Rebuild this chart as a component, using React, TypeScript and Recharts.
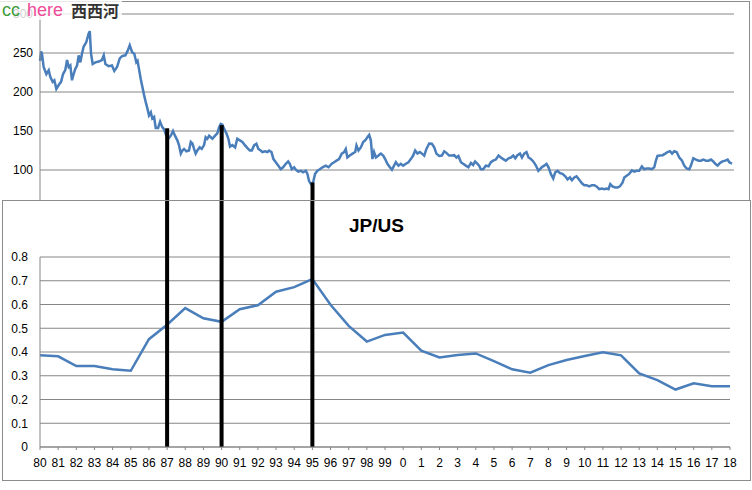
import { LineChart, Line, XAxis, YAxis, CartesianGrid, ReferenceLine } from "recharts"

// USD/JPY rate, top chart (x = years since Jan 1980)
const fxYears = [
  0.0, 0.06, 0.11, 0.2, 0.35, 0.48, 0.57, 0.7, 0.79, 0.9,
  1.03, 1.16, 1.27, 1.39, 1.49, 1.58, 1.67, 1.76, 1.85, 1.95,
  2.04, 2.13, 2.22, 2.31, 2.4, 2.55, 2.68, 2.74, 2.81, 2.9,
  3.05, 3.23, 3.41, 3.51, 3.6, 3.78, 3.96, 4.09, 4.24, 4.39,
  4.52, 4.7, 4.83, 4.94, 5.07, 5.19, 5.3, 5.37, 5.55, 5.73,
  5.82, 5.91, 6.0, 6.1, 6.18, 6.28, 6.37, 6.5, 6.61, 6.73,
  6.83, 6.95, 7.06, 7.2, 7.32, 7.43, 7.56, 7.65, 7.75, 7.84,
  7.93, 8.06, 8.2, 8.3, 8.39, 8.48, 8.57, 8.66, 8.79, 8.9,
  9.03, 9.12, 9.21, 9.31, 9.4, 9.49, 9.64, 9.76, 9.86, 9.95,
  10.04, 10.13, 10.26, 10.37, 10.46, 10.59, 10.74, 10.86, 11.0, 11.14,
  11.29, 11.42, 11.55, 11.66, 11.78, 11.91, 12.02, 12.15, 12.24, 12.39,
  12.52, 12.61, 12.74, 12.85, 12.98, 13.12, 13.25, 13.38, 13.53, 13.66,
  13.75, 13.86, 13.99, 14.08, 14.22, 14.36, 14.48, 14.63, 14.72, 14.81,
  14.91, 15.03, 15.14, 15.27, 15.4, 15.55, 15.73, 15.88, 16.06, 16.19,
  16.32, 16.46, 16.61, 16.74, 16.83, 16.92, 17.05, 17.2, 17.35, 17.42,
  17.53, 17.66, 17.79, 17.9, 18.02, 18.12, 18.21, 18.3, 18.39, 18.49,
  18.63, 18.76, 18.89, 19.0, 19.12, 19.26, 19.37, 19.49, 19.59, 19.73,
  19.86, 19.99, 20.14, 20.28, 20.41, 20.54, 20.65, 20.78, 20.91, 21.02,
  21.15, 21.27, 21.42, 21.57, 21.7, 21.82, 21.97, 22.12, 22.25, 22.37,
  22.52, 22.67, 22.8, 22.92, 23.03, 23.17, 23.29, 23.44, 23.58, 23.72,
  23.84, 23.95, 24.08, 24.17, 24.27, 24.39, 24.54, 24.69, 24.82, 24.94,
  25.09, 25.24, 25.37, 25.5, 25.64, 25.79, 25.92, 26.05, 26.16, 26.28,
  26.42, 26.53, 26.65, 26.78, 26.89, 27.02, 27.15, 27.29, 27.43, 27.62,
  27.75, 27.88, 27.99, 28.12, 28.25, 28.36, 28.49, 28.62, 28.76, 28.91,
  29.04, 29.17, 29.28, 29.41, 29.53, 29.68, 29.83, 29.96, 30.08, 30.23,
  30.38, 30.51, 30.63, 30.78, 30.93, 31.06, 31.18, 31.29, 31.39, 31.51,
  31.66, 31.79, 31.92, 32.07, 32.16, 32.29, 32.43, 32.58, 32.71, 32.84,
  32.98, 33.13, 33.26, 33.39, 33.54, 33.68, 33.81, 33.9, 33.99, 34.12,
  34.27, 34.42, 34.54, 34.68, 34.79, 34.91, 35.04, 35.19, 35.34, 35.46,
  35.59, 35.74, 35.83, 35.96, 36.11, 36.25, 36.38, 36.51, 36.66, 36.8,
  36.93, 37.06, 37.17, 37.3, 37.43, 37.57, 37.72, 37.85, 37.94, 38.09,
]

const fxRates = [
  240, 252, 249, 232, 223, 228, 219, 213, 215, 204,
  209, 213, 223, 228, 241, 232, 234, 215, 223, 230,
  234, 247, 238, 249, 258, 264, 275, 278, 249, 236,
  238, 239, 241, 247, 236, 233, 234, 227, 232, 243,
  246, 247, 253, 260, 251, 249, 238, 240, 216, 196,
  187, 179, 170, 174, 166, 168, 154, 154, 162, 155,
  152, 144, 140, 144, 150, 144, 138, 132, 121, 125,
  127, 124, 125, 136, 134, 127, 121, 125, 129, 127,
  132, 142, 140, 144, 142, 140, 144, 147, 155, 159,
  158, 153, 147, 140, 130, 132, 129, 140, 138, 136,
  131.5, 128, 125, 125, 131.5, 133.6, 127, 125, 123, 124,
  123, 125, 123, 114, 110, 105.6, 101, 103.5, 108, 111,
  108, 101, 103.5, 100.4, 98, 99, 97, 99, 95, 86,
  82, 84, 95, 99, 101, 103.5, 105.6, 103.5, 108, 110,
  112, 114, 121, 123, 127, 116, 118.5, 121, 123, 131.5,
  125, 129, 136, 138, 142, 145, 138, 114, 123, 116,
  118.5, 121, 118.5, 114, 108, 103.5, 100.4, 105.6, 110, 105.6,
  108, 105.6, 108, 110, 114, 118.5, 125, 121, 123, 121,
  118.5, 127, 134, 133.6, 129, 121, 118, 118.5, 124, 122,
  118.5, 118.5, 119, 116, 118, 110, 108, 105.6, 103.5, 109,
  106.5, 111, 108, 105.6, 101, 101, 105.6, 104.7, 110, 112,
  113.4, 118.5, 116, 114, 112, 115, 116, 118.5, 115, 119,
  121, 116, 121, 123, 116, 114, 111, 106, 99, 103.5,
  105.6, 108, 103.5, 95, 89, 97, 99, 96, 95, 92,
  88, 90.5, 87, 90.5, 92, 87.5, 83, 80.6, 80.6, 79,
  80.6, 80.6, 79, 75.4, 76.3, 75.4, 76.3, 75.4, 82, 79,
  77.6, 77.6, 79, 84, 90.5, 92.7, 95, 99.5, 98, 99,
  99, 104.7, 101, 102, 102, 101, 103.5, 112, 118, 118.5,
  119, 121, 123, 124, 121, 124, 123, 116, 112, 105.6,
  102, 101, 105.6, 115, 113.4, 112, 112, 113.4, 112, 112,
  113.4, 111, 108, 105.6, 109, 111, 112, 113.4, 110, 108,
]

const fxTicks = [0, 50, 100, 150, 200, 250, 300]

// JP/US ratio, bottom chart
const years = [
  "80", "81", "82", "83", "84", "85", "86", "87", "88", "89",
  "90", "91", "92", "93", "94", "95", "96", "97", "98", "99",
  "0", "1", "2", "3", "4", "5", "6", "7", "8", "9",
  "10", "11", "12", "13", "14", "15", "16", "17", "18",
]

const jpUs = [
  0.386, 0.382, 0.341, 0.341, 0.327, 0.321, 0.454, 0.515, 0.585, 0.542,
  0.527, 0.58, 0.597, 0.654, 0.673, 0.707, 0.599, 0.51, 0.444, 0.472,
  0.482, 0.406, 0.377, 0.387, 0.394, 0.362, 0.327, 0.313, 0.345, 0.366,
  0.383, 0.399, 0.386, 0.31, 0.282, 0.242, 0.268, 0.256, 0.256,
]

const ratioTicks = [0, 0.1, 0.2, 0.3, 0.4, 0.5, 0.6, 0.7, 0.8]

// turning points marked with black bars
const markerYears = ["87", "90", "95"]
const markerFxYears = [7, 10, 15]
const markerFxTop = [153.5, 157.5, 84]

const fxData = fxYears.map((t, i) => ({ t, rate: fxRates[i] }))
const ratioData = years.map((year, i) => ({ year, ratio: jpUs[i] }))

const BLUE = "#4a7ebb"
const GRID = "#868686"
const FONT = "'Liberation Sans', Arial, sans-serif"

export default function App() {
  return (
    <div
      style={{
        position: "absolute",
        left: 0,
        top: 0,
        width: 752,
        height: 490,
        background: "#fff",
        overflow: "hidden",
        fontFamily: FONT,
      }}
    >
      {/* top chart frame */}
      <div
        style={{
          position: "absolute",
          left: -1,
          top: 1,
          width: 750,
          height: 260,
          borderTop: "1px solid #8c8c8c",
          borderRight: "1px solid #8c8c8c",
        }}
      />
      <div style={{ position: "absolute", left: 0, top: 0 }}>
        <LineChart width={752} height={260} data={fxData} margin={{ top: 14, right: 18, bottom: 12, left: 0 }}>
          <CartesianGrid vertical={false} stroke={GRID} />
          <XAxis dataKey="t" type="number" domain={[0, 38.2]} hide />
          <YAxis
            width={40}
            domain={[0, 300]}
            ticks={fxTicks}
            axisLine={{ stroke: GRID }}
            tickLine={false}
            tickSize={0}
            tickMargin={7}
            tick={{ fontSize: 12, fill: "#000", fontFamily: FONT }}
          />
          <Line
            type="linear"
            dataKey="rate"
            stroke={BLUE}
            strokeWidth={2.5}
            dot={false}
            isAnimationActive={false}
          />
          {markerFxYears.map((t, i) => (
            <ReferenceLine
              key={t}
              segment={[
                { x: t, y: markerFxTop[i] },
                { x: t, y: 0 },
              ]}
              stroke="#000"
              strokeWidth={4}
            />
          ))}
        </LineChart>
      </div>

      {/* watermark */}
      <div
        style={{
          position: "absolute",
          left: 0,
          top: 0,
          width: 122,
          height: 20,
          background: "rgba(255,255,255,0.8)",
          whiteSpace: "nowrap",
        }}
      >
        <span style={{ position: "absolute", left: 2, top: 0, fontSize: 18, lineHeight: "20px", color: "#3c9c3c" }}>
          cc
        </span>
        <span style={{ position: "absolute", left: 27, top: 0, fontSize: 18, lineHeight: "20px", color: "#ee4b98" }}>
          here
        </span>
        <span
          style={{
            position: "absolute",
            left: 71,
            top: 0,
            fontSize: 16,
            lineHeight: "20px",
            color: "#333",
            fontWeight: 700,
            fontFamily: "'Noto Sans CJK SC', sans-serif",
          }}
        >
          西西河
        </span>
      </div>

      {/* bottom panel */}
      <div
        style={{
          position: "absolute",
          left: 2,
          top: 200,
          width: 749,
          height: 281,
          boxSizing: "border-box",
          border: "1px solid #8c8c8c",
          background: "#fff",
        }}
      >
        <div
          style={{
            position: "absolute",
            left: 0,
            top: 15,
            width: 747,
            textAlign: "center",
            fontSize: 19,
            fontWeight: 700,
            lineHeight: "20px",
            color: "#000",
          }}
        >
          JP/US
        </div>
        <div style={{ position: "absolute", left: 0, top: 0 }}>
          <LineChart width={747} height={279} data={ratioData} margin={{ top: 56, right: 20, bottom: 0, left: 0 }}>
            <CartesianGrid vertical={false} stroke={GRID} />
            <XAxis
              dataKey="year"
              height={33}
              interval={0}
              axisLine={{ stroke: GRID }}
              tickLine={{ stroke: GRID }}
              tickSize={3}
              tickMargin={8}
              tick={{ fontSize: 12, fill: "#000", fontFamily: FONT }}
            />
            <YAxis
              width={37}
              domain={[0, 0.8]}
              ticks={ratioTicks}
              axisLine={{ stroke: GRID }}
              tickLine={false}
              tickSize={0}
              tickMargin={12}
              tick={{ fontSize: 12, fill: "#000", fontFamily: FONT }}
            />
            <Line
              type="linear"
              dataKey="ratio"
              stroke={BLUE}
              strokeWidth={2.5}
              dot={false}
              isAnimationActive={false}
            />
            {markerYears.map((y) => (
              <ReferenceLine
                key={y}
                segment={[
                  { x: y, y: 0 },
                  { x: y, y: 1.05 },
                ]}
                ifOverflow="visible"
                stroke="#000"
                strokeWidth={4}
              />
            ))}
          </LineChart>
        </div>
      </div>
    </div>
  )
}
